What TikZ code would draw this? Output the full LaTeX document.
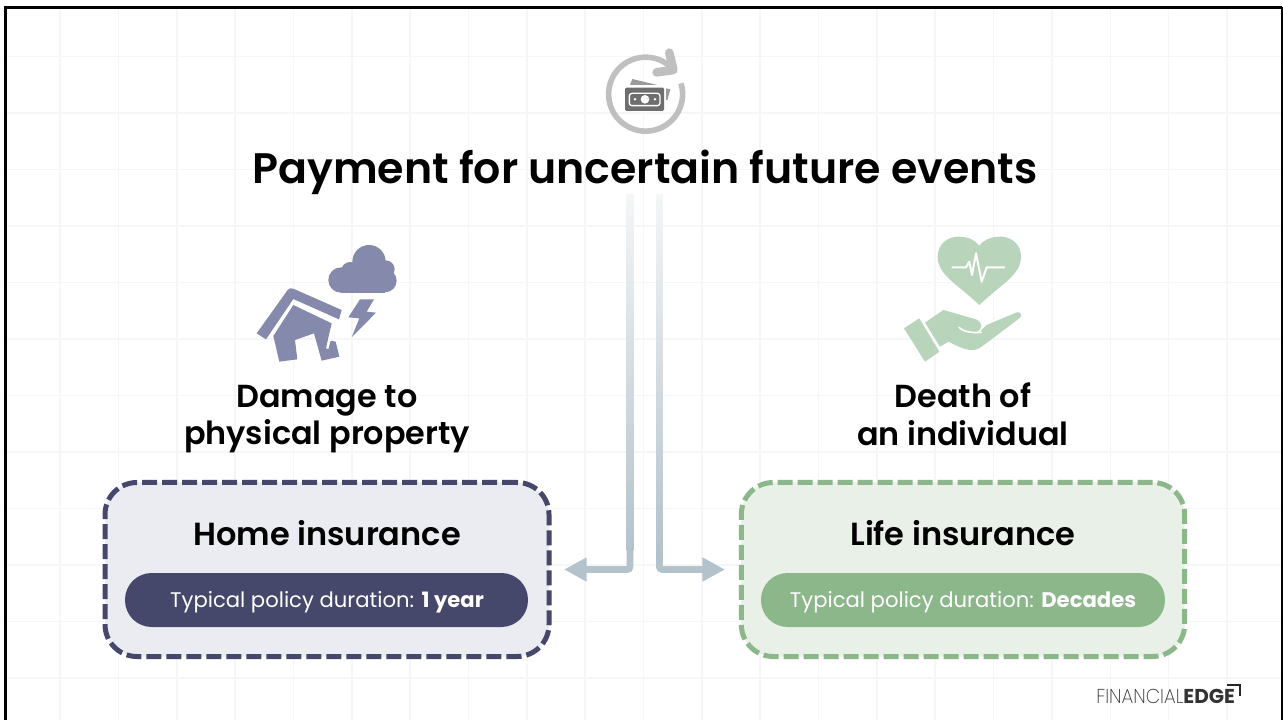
\documentclass[tikz,border=0pt]{standalone}
\usepackage{fontspec}
\setmainfont{Poppins}[BoldFont={Poppins SemiBold}]
\newfontfamily\popbold{Poppins Bold}
\newfontfamily\poplight{Poppins ExtraLight}
\usetikzlibrary{arrows.meta,calc}
\definecolor{navy}{HTML}{45486A}
\definecolor{navyfill}{HTML}{EBECF2}
\definecolor{navyicon}{HTML}{8589AB}
\definecolor{grn}{HTML}{8CB78A}
\definecolor{grnfill}{HTML}{E8F0E7}
\definecolor{grnicon}{HTML}{B8D4BA}
\definecolor{arrowc}{HTML}{B4C2CC}
\definecolor{gridc}{HTML}{F6F6F6}
\definecolor{coinline}{HTML}{BFBFBF}
\definecolor{billc}{HTML}{6E6E6E}
\tikzset{
  x=0.75pt,y=-0.75pt,
  heading/.style={font=\fontsize{23.8bp}{28bp}\selectfont\bfseries,text=black,align=center,inner sep=0pt},
  titletext/.style={font=\fontsize{31.9bp}{38bp}\selectfont\bfseries,text=black,inner sep=0pt},
  subhead/.style={font=\fontsize{23.9bp}{28bp}\selectfont\bfseries,text=black,align=center,inner sep=0pt},
  dashbox/.style={rectangle,rounded corners=24pt,line width=3.75pt,dash pattern=on 11.25pt off 3.75pt,outer sep=0pt,inner sep=0pt,minimum height=130.5pt},
  pillbox/.style={rectangle,rounded corners=20pt,outer sep=0pt,inner sep=0pt,minimum height=40.5pt},
  pilltext/.style={font=\fontsize{15.8bp}{20bp}\selectfont,text=white,inner sep=0pt},
  pipe/.style={line width=5pt,arrowc,rounded corners=2pt,-{Triangle[length=17pt,width=17pt]}},
}
\begin{document}
\begin{tikzpicture}
\useasboundingbox (0,0) rectangle (1283,720);
\fill[white] (0,0) rectangle (1283,720);
% grid
\foreach \i in {0,...,21} \draw[gridc,line width=1.2pt] ({60+58.35*\i},8) -- ({60+58.35*\i},720);
\foreach \i in {0,...,11} \draw[gridc,line width=1.2pt] (6,{56.5+56.5*\i}) -- (1281,{56.5+56.5*\i});
% frame
\draw[black,line width=2.3pt] (5.5,720) -- (5.5,7.5) -- (1282,7.5);
\draw[black,line width=1pt] (1282,7.5) -- (1282,720);
% money icon
\begin{scope}[shift={(580,30)},scale=1/3]
  \draw[coinline,line width=4.2pt] (303,160) arc[start angle=-17,end angle=315,radius=111];
  \draw[coinline,line width=6.5pt,line cap=round,line join=round] (268,68) -- (280,120) -- (230,127);
  \fill[billc!70!white] (157,147) -- (232,165) -- (150,165) -- cycle;
  \fill[billc!70!white] (258,175) -- (271,178) -- (262,210) -- (258,210) -- cycle;
  \fill[billc,rounded corners=1pt] (135,173) rectangle (252,243);
  \draw[white,line width=1pt,rounded corners=2pt] (148,190) rectangle (240,227);
  \fill[white] (195,208) circle (13);
  \fill[white] (165,208) circle (4);
  \fill[white] (225,208) circle (4);
\end{scope}
% title
\node[titletext] (title) at (645,172) {Payment for uncertain future events};
% house and cloud icon
\begin{scope}[shift={(240,230)},scale=1/3]
  \fill[navyicon] (387,95) circle (50);
  \fill[navyicon] (330,122) circle (26);
  \fill[navyicon] (437,118) circle (27);
  \fill[navyicon] (303,150) circle (38);
  \fill[navyicon] (435,152) circle (35);
  \fill[navyicon] (303,128) rectangle (435,188);
  \fill[navyicon] (360,208) -- (402,208) -- (380,245) -- (408,248) -- (335,322) -- (358,265) -- (325,262) -- cycle;
  \fill[navyicon] (50,310) -- (143,180) .. controls (148,174) and (155,173) .. (162,177)
    -- (305,240) -- (297,268) -- (160,207) -- (78,328) -- cycle;
  \fill[navyicon] (100,318) -- (160,225) -- (275,280) -- (268,310) -- (258,355)
    -- (265,358) -- (272,332) -- (287,335) -- (298,380) -- (245,392) -- (222,310) -- (165,330) -- (172,388) -- (118,395) -- cycle;
\end{scope}
% heart and hand icon
\begin{scope}[shift={(890,225)},scale=1/3]
  \fill[grnicon] (268,240) .. controls (200,175) and (143,150) .. (143,95)
     .. controls (143,55) and (175,35) .. (205,35) .. controls (235,35) and (255,45) .. (268,62)
     .. controls (281,45) and (301,35) .. (331,35) .. controls (361,35) and (393,55) .. (393,95)
     .. controls (393,150) and (336,175) .. (268,240) -- cycle;
  \draw[white,line width=1.5pt,line join=round,line cap=round] (187,127) -- (228,127) -- (238,110) -- (246,150) -- (258,85) -- (275,170) -- (290,127) -- (343,127);
  \fill[grnicon] (42,310) -- (88,280) -- (148,380) -- (105,410) -- cycle;
  \fill[grnicon] (105,293) -- (160,255) -- (258,283) .. controls (280,292) and (280,318) .. (255,320)
    -- (270,320) -- (290,300) -- (380,262) .. controls (392,258) and (398,272) .. (388,280)
    -- (275,365) .. controls (250,382) and (230,378) .. (175,350) -- (150,365) -- cycle;
  \draw[white,line width=1.2pt,line cap=round] (207,307) .. controls (222,322) and (250,324) .. (274,322);
\end{scope}
% headings
\node[heading] (dmg) at (327,419) {Damage to\\physical property};
\node[heading] (dth) at (963,414) {Death of\\an individual};
% boxes
\node[dashbox,draw=navy,fill=navyfill,minimum width=333pt] (home) at (327,569.5) {};
\node[dashbox,draw=grn,fill=grnfill,minimum width=332.5pt] (life) at (963,569.5) {};
\node[subhead] (homet) at (327,533.5) {Home insurance};
\node[subhead] (lifet) at (963,533.5) {Life insurance};
\node[pillbox,fill=navy,minimum width=302.25pt] (homep) at (326.5,600) {};
\node[pillbox,fill=grn,minimum width=303pt] (lifep) at (963,600) {};
\node[pilltext] (homex) at (327,602) {Typical policy duration: {\popbold 1 year}};
\node[pilltext] (lifex) at (963,602) {Typical policy duration: {\popbold Decades}};
% connectors
\coordinate (ls) at (630,195); \coordinate (lm) at (630,550); \coordinate (lb) at (630,569.5); \coordinate (lt) at (564,569.5);
\coordinate (rs) at (659.5,195); \coordinate (rm) at (659.5,550); \coordinate (rb) at (659.5,569.5); \coordinate (rt) at (725,569.5);
\shade[top color=arrowc!15,bottom color=arrowc] ($(ls)+(-3.33,0)$) rectangle ($(lm)+(3.33,0)$);
\shade[top color=arrowc!15,bottom color=arrowc] ($(rs)+(-3.33,0)$) rectangle ($(rm)+(3.33,0)$);
\draw[pipe] (lm) -- (lb) -- (lt);
\draw[pipe] (rm) -- (rb) -- (rt);
% logo
\node[inner sep=0pt,anchor=base west,text=black!80] (logo) at (1096,703) {\fontsize{15bp}{18bp}\selectfont\scalebox{0.93}[1]{\poplight FINANCIAL}{\popbold EDGE}};
\draw[black!85,line width=1.2pt] (1227,685) -- (1239.8,685) -- (1239.8,695.5);
\end{tikzpicture}
\end{document}
